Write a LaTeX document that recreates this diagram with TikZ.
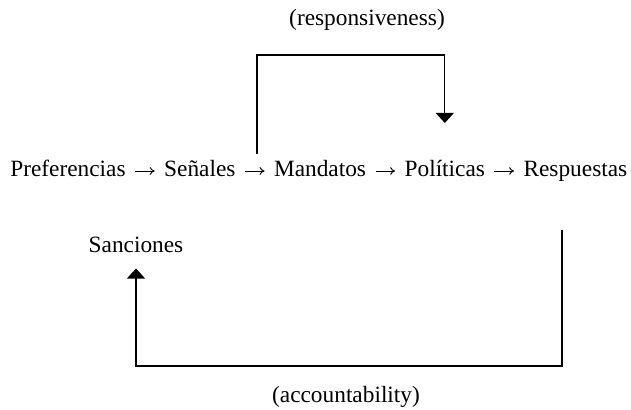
\documentclass[tikz,border=0pt]{standalone}
\usepackage{fontspec}
\setmainfont{Liberation Serif}
\usetikzlibrary{positioning,arrows.meta}

\tikzset{
	palabra/.style={inner sep=0pt, font=\fontsize{16.6}{20}\selectfont},
	flecha/.style={-{To[length=3.5pt,width=5.5pt]}, line width=0.7pt, shorten <=0.23cm, shorten >=0.23cm},
	lazo/.style={line width=0.8pt, -{Triangle[length=0.25cm,width=0.45cm]}}
}

\begin{document}
\begin{tikzpicture}
	\useasboundingbox (0,0) rectangle (15.775,10.225);

	% cadena principal
	\node[palabra, anchor=base west] (pref) at (0.25, 5.8) {Preferencias};
	\node[palabra, base right=0.95cm of pref] (sen) {Señales};
	\node[palabra, base right=0.95cm of sen] (man) {Mandatos};
	\node[palabra, base right=0.95cm of man] (pol) {Políticas};
	\node[palabra, base right=0.95cm of pol] (res) {Respuestas};
	\draw[flecha] ([yshift=0.15cm]pref.base east) -- ([yshift=0.15cm]sen.base west);
	\draw[flecha] ([yshift=0.15cm]sen.base east) -- ([yshift=0.15cm]man.base west);
	\draw[flecha] ([yshift=0.15cm]man.base east) -- ([yshift=0.15cm]pol.base west);
	\draw[flecha] ([yshift=0.15cm]pol.base east) -- ([yshift=0.15cm]res.base west);

	% responsiveness
	\node[palabra, anchor=base] (respons) at (9.175, 9.575) {(responsiveness)};
	\coordinate (ini-r) at (6.425, 6.375);
	\coordinate (fin-r) at ([yshift=1.35cm]pol.base);
	\draw[lazo] (ini-r) -- ++(0, 2.475) -| (fin-r);

	% accountability
	\node[palabra, anchor=base] (sanc) at (3.4, 3.9) {Sanciones};
	\node[palabra, anchor=base] (account) at (8.65, 0.175) {(accountability)};
	\coordinate (ini-a) at (14.05, 4.475);
	\draw[lazo] (ini-a) -- ++(0, -3.4) -| ([yshift=-0.375cm]sanc.south);

\end{tikzpicture}
\end{document}
